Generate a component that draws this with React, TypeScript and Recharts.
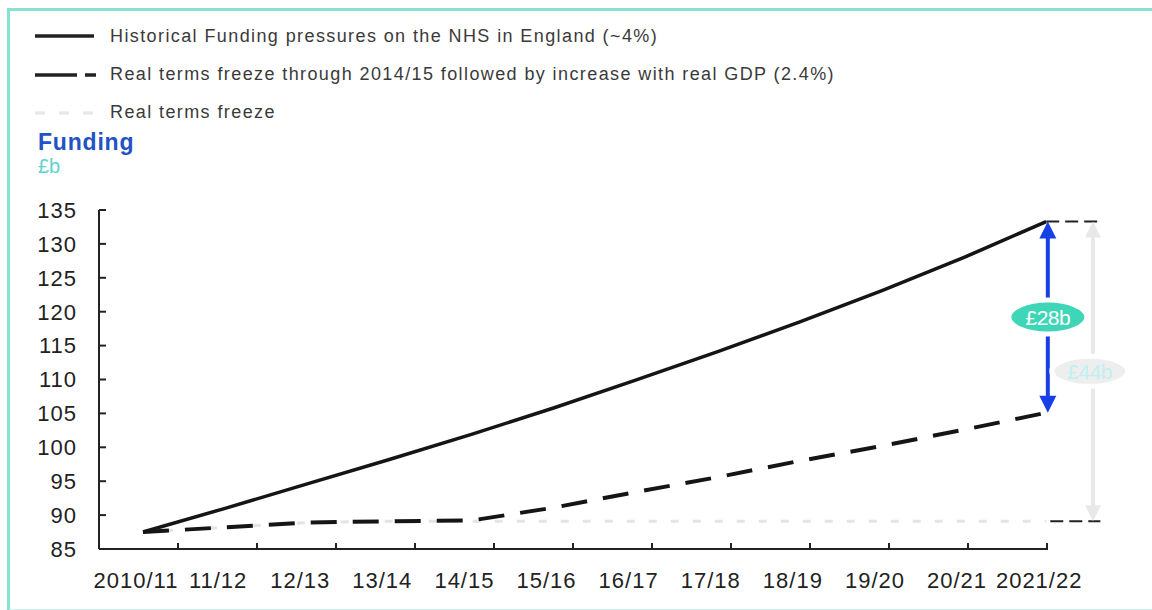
import React from 'react';
import { LineChart, Line, XAxis, YAxis, ReferenceLine, ReferenceDot } from 'recharts';

const categories = ['2010/11', '11/12', '12/13', '13/14', '14/15', '15/16', '16/17', '17/18', '18/19', '19/20', '20/21', '2021/22'];
const historical = [87.5, 91.0, 94.6, 98.2, 101.9, 105.8, 109.9, 114.1, 118.5, 123.1, 128.0, 133.3];
const gdpPath = [87.5, 88.2, 88.9, 89.1, 89.2, 91.1, 93.4, 95.6, 98.0, 100.2, 102.6, 105.1];
const freeze = [87.5, 88.2, 88.9, 89.1, 89.1, 89.1, 89.1, 89.1, 89.1, 89.1, 89.1, 89.1];
const yTicks = [85, 90, 95, 100, 105, 110, 115, 120, 125, 130, 135];
const legendLabels = [
  'Historical Funding pressures on the NHS in England (~4%)',
  'Real terms freeze through 2014/15 followed by increase with real GDP (2.4%)',
  'Real terms freeze',
];

const FONT = '"Liberation Sans", Arial, sans-serif';
const X_DOMAIN: [number, number] = [-0.536, 11.01];

const arrowShape = (color: string, width: number, head: number) => (props: any) => {
  const { x1, y1, x2, y2 } = props;
  const x = x1;
  const ya = Math.min(y1, y2);
  const yb = Math.max(y1, y2);
  return (
    <g>
      <line x1={x} y1={ya + head * 0.8} x2={x} y2={yb - head * 0.8} stroke={color} strokeWidth={width} />
      <polygon points={`${x},${ya} ${x - head / 2},${ya + head} ${x + head / 2},${ya + head}`} fill={color} />
      <polygon points={`${x},${yb} ${x - head / 2},${yb - head} ${x + head / 2},${yb - head}`} fill={color} />
    </g>
  );
};

const ellipseShape = (text: string, fill: string, color: string, rx: number, ry: number) => (props: any) => {
  const { cx, cy } = props;
  return (
    <g>
      <ellipse cx={cx} cy={cy} rx={rx} ry={ry} fill={fill} stroke="#ffffff" strokeWidth={5} />
      <text x={cx} y={cy} textAnchor="middle" dominantBaseline="central" fill={color} fontFamily={FONT} fontSize={21} letterSpacing={-0.5}>
        {text}
      </text>
    </g>
  );
};

const XTick = (props: any) => {
  const { x, y, payload } = props;
  return (
    <text x={x - 7} y={y} textAnchor="middle" dominantBaseline="hanging" fill="#222" fontFamily={FONT} fontSize={22} letterSpacing={1}>
      {categories[payload.value]}
    </text>
  );
};

export default function App() {
  const data = categories.map((c, i) => ({ x: i, label: c, historical: historical[i], gdp: gdpPath[i], freeze: freeze[i] }));
  const last = categories.length - 1;
  const top = historical[last];
  const mid = gdpPath[last];
  const low = freeze[last];
  const gap1 = `£${Math.round(top - mid)}b`;
  const gap2 = `£${Math.round(top - low)}b`;
  const n = categories.length;
  const bandTicks = categories.map((_, k) => X_DOMAIN[0] + ((k + 1) * (X_DOMAIN[1] - X_DOMAIN[0])) / n);

  return (
    <div style={{ position: 'absolute', left: 0, top: 0, width: 1152, height: 610, background: '#fff', fontFamily: FONT }}>
      <div style={{ position: 'absolute', left: 7, top: 8, width: 1150, height: 598, borderLeft: '3px solid #86e3d3', borderTop: '3px solid #86e3d3', borderBottom: '3px solid #c8f3ee' }} />
      <svg width={120} height={130} style={{ position: 'absolute', left: 0, top: 0 }}>
        <line x1={35} y1={36} x2={94} y2={36} stroke="#222" strokeWidth={3.5} />
        <line x1={35} y1={75} x2={77} y2={75} stroke="#222" strokeWidth={3.5} />
        <line x1={85} y1={75} x2={96} y2={75} stroke="#222" strokeWidth={3.5} />
        <line x1={35} y1={113} x2={96} y2={113} stroke="#e6e6e6" strokeWidth={3} strokeDasharray="10 14" />
      </svg>
      {legendLabels.map((t, i) => (
        <div key={t} style={{ position: 'absolute', left: 110, top: 25 + i * 38, fontSize: 18, letterSpacing: 1.4, color: '#3a3a3a', whiteSpace: 'nowrap', lineHeight: '22px' }}>
          {t}
        </div>
      ))}
      <div style={{ position: 'absolute', left: 38, top: 128, fontSize: 23, fontWeight: 'bold', color: '#2352c4', lineHeight: '28px', letterSpacing: 0.8 }}>Funding</div>
      <div style={{ position: 'absolute', left: 38, top: 154, fontSize: 20, color: '#5fd3cb', lineHeight: '24px' }}>£b</div>
      <div style={{ position: 'absolute', left: 0, top: 0 }}>
        <LineChart width={1152} height={610} data={data} margin={{ top: 210, right: 105, bottom: 59, left: 0 }}>
          <XAxis
            xAxisId="ticks"
            dataKey="x"
            type="number"
            domain={X_DOMAIN}
            allowDataOverflow
            ticks={bandTicks}
            interval={0}
            height={1}
            axisLine={false}
            tickSize={-7}
            tickLine={{ stroke: '#222', strokeWidth: 2 }}
            tickFormatter={() => ''}
          />
          <XAxis
            xAxisId="main"
            dataKey="x"
            type="number"
            domain={X_DOMAIN}
            allowDataOverflow
            ticks={categories.map((_, i) => i)}
            interval={0}
            height={1}
            axisLine={{ stroke: '#222', strokeWidth: 2 }}
            tickLine={false}
            tickMargin={17}
            tick={<XTick />}
          />
          <YAxis
            domain={[85, 135]}
            ticks={yTicks}
            width={99}
            axisLine={{ stroke: '#222', strokeWidth: 2 }}
            tickLine={{ stroke: '#222', strokeWidth: 2 }}
            tickSize={-7}
            tickMargin={29}
            tick={{ fill: '#222', fontSize: 22, fontFamily: FONT, letterSpacing: 1 }}
          />
          <Line xAxisId="main" dataKey="freeze" stroke="#e4e4e4" strokeWidth={3} strokeDasharray="8 14" dot={false} isAnimationActive={false} />
          <Line xAxisId="main" dataKey="gdp" stroke="#151515" strokeWidth={4} strokeDasharray="26 16" dot={false} isAnimationActive={false} />
          <Line xAxisId="main" dataKey="historical" stroke="#151515" strokeWidth={3.5} dot={false} isAnimationActive={false} />
          <ReferenceLine xAxisId="main" ifOverflow="visible" segment={[{ x: last, y: top }, { x: last + 0.66, y: top }]} stroke="#222" strokeWidth={2} strokeDasharray="13 6" />
          <ReferenceLine xAxisId="main" ifOverflow="visible" segment={[{ x: last + 0.05, y: low }, { x: last + 0.66, y: low }]} stroke="#222" strokeWidth={2} strokeDasharray="13 6" />
          <ReferenceLine xAxisId="main" ifOverflow="visible" segment={[{ x: last + 0.57, y: top }, { x: last + 0.57, y: low }]} shape={arrowShape('#e8e8e8', 4, 16)} />
          <ReferenceLine xAxisId="main" ifOverflow="visible" segment={[{ x: last + 0.02, y: top }, { x: last + 0.02, y: mid }]} shape={arrowShape('#1640e6', 4, 17)} />
          <ReferenceDot xAxisId="main" ifOverflow="visible" x={last + 0.02} y={(top + mid) / 2} r={1} shape={ellipseShape(gap1, '#3fd6b8', '#ffffff', 39, 17)} />
          <ReferenceDot xAxisId="main" ifOverflow="visible" x={last + 0.53} y={(top + low) / 2} r={1} shape={ellipseShape(gap2, '#eeeeee', '#bff0f2', 38, 15)} />
        </LineChart>
      </div>
    </div>
  );
}
